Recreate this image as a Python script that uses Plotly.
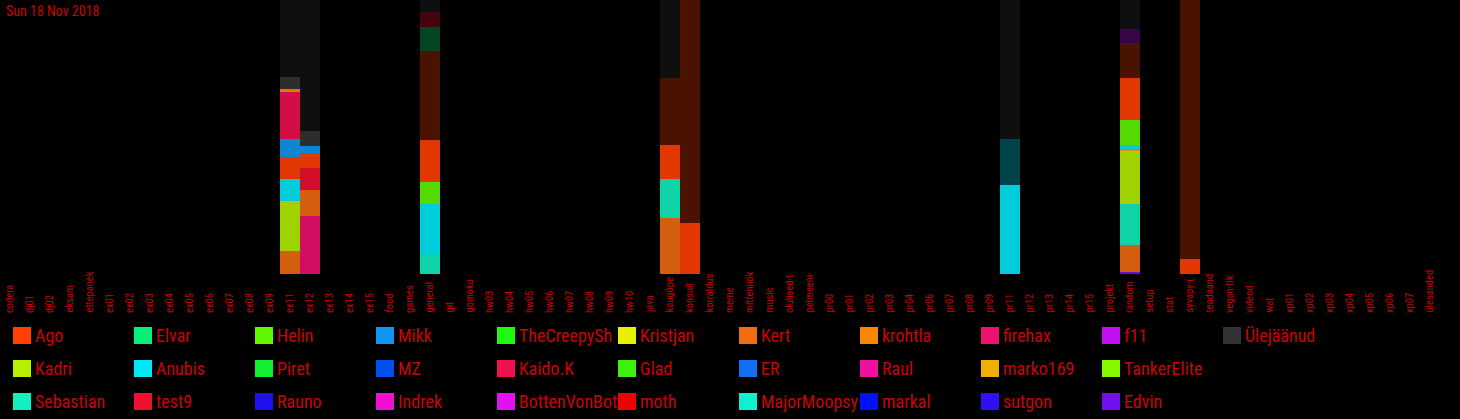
import plotly.graph_objects as go

# ---------------- data ----------------
categories = [
    "codera", "dj01", "dj02", "eksam", "ettepanek", "ex01", "ex02", "ex03", "ex04", "ex05",
    "ex06", "ex07", "ex08", "ex09", "ex11", "ex12", "ex13", "ex14", "ex15", "food",
    "games", "general", "git", "gomoku", "hw03", "hw04", "hw05", "hw06", "hw07", "hw08",
    "hw09", "hw10", "java", "kaugõpe", "konsult", "korraldus", "meme", "mitteniiök", "music", "olulised-t",
    "pelmeeni-", "pr00", "pr01", "pr02", "pr03", "pr04", "pr06", "pr07", "pr08", "pr09",
    "pr11", "pr12", "pr13", "pr14", "pr15", "projekt", "random", "setup", "stat", "syvapy-(",
    "teadaand", "vegan-tik", "videod", "wat", "xp01", "xp02", "xp03", "xp04", "xp05", "xp06",
    "xp07", "ülesanded",
]

series_names = [
    "Ago", "Kadri", "Sebastian", "Elvar", "Anubis", "test9", "Helin", "Piret", "Rauno",
    "Mikk", "MZ", "Indrek", "TheCreepySh", "Kaido.K", "BottenVonBot", "Kristjan", "Glad",
    "moth", "Kert", "ER", "MajorMoopsy", "krohtla", "Raul", "markal", "firehax", "marko169",
    "sutgon", "f11", "TankerElite", "Edvin", "Ülejäänud",
]
series_colors = [
    "#ff4000", "#b4f000", "#10f0c0", "#00f078", "#00e8f8", "#f01030", "#60f800", "#10f030", "#2010f0",
    "#1098f0", "#0050f0", "#f010d0", "#20f810", "#f01050", "#e010f0", "#e8f000", "#40f010",
    "#f00000", "#f06c10", "#1070f0", "#10f0d0", "#f88800", "#f010a0", "#0010f8", "#f01070", "#f0b000",
    "#3010f0", "#c010f0", "#88f800", "#7010f0", "#333333",
]

# stacked segments per bar, bottom to top (percent of bar); faded = 1 for dim segments
ex11_names = ["Kert", "Kadri", "Anubis", "Ago", "Mikk", "Kaido.K", "krohtla", "Ülejäänud", "Ülejäänud"]
ex11_values = [8.4, 18.2, 8.0, 8.0, 6.6, 17.5, 0.7, 4.4, 28.2]
ex11_faded = [0, 0, 0, 0, 0, 0, 0, 0, 1]

ex12_names = ["firehax", "Kert", "test9", "Ago", "Mikk", "Ülejäänud", "Ülejäänud"]
ex12_values = [21.2, 9.5, 8.0, 5.5, 2.6, 5.5, 47.7]
ex12_faded = [0, 0, 0, 0, 0, 0, 1]

general_names = ["Sebastian", "Anubis", "Helin", "Ago", "Ago", "Elvar", "test9", "Ülejäänud"]
general_values = [7.3, 18.2, 8.0, 15.3, 32.5, 8.8, 5.5, 4.4]
general_faded = [0, 0, 0, 0, 1, 1, 1, 1]

kaugope_names = ["Kert", "Sebastian", "Ago", "Ago", "Ülejäänud"]
kaugope_values = [20.4, 14.2, 12.4, 24.5, 28.5]
kaugope_faded = [0, 0, 0, 1, 1]

konsult_names = ["Ago", "Ago"]
konsult_values = [18.6, 81.4]
konsult_faded = [0, 1]

pr11_names = ["Anubis", "Anubis", "Ülejäänud"]
pr11_values = [32.5, 16.8, 50.7]
pr11_faded = [0, 1, 1]

random_names = ["Edvin", "Kert", "Sebastian", "Kadri", "krohtla", "Anubis", "Helin", "Ago", "Ago", "f11", "Ülejäänud"]
random_values = [0.7, 9.9, 14.8, 19.7, 0.4, 1.5, 9.1, 15.3, 12.8, 5.1, 10.7]
random_faded = [0, 0, 0, 0, 0, 0, 0, 0, 1, 1, 1]

syvapy_names = ["Ago", "Ago"]
syvapy_values = [5.5, 94.5]
syvapy_faded = [0, 1]

bar_categories = ["ex11", "ex12", "general", "kaugõpe", "konsult", "pr11", "random", "syvapy-("]
bar_names = [ex11_names, ex12_names, general_names, kaugope_names, konsult_names, pr11_names, random_names, syvapy_names]
bar_values = [ex11_values, ex12_values, general_values, kaugope_values, konsult_values, pr11_values, random_values, syvapy_values]
bar_faded = [ex11_faded, ex12_faded, general_faded, kaugope_faded, konsult_faded, pr11_faded, random_faded, syvapy_faded]

title_text = "Sun 18 Nov 2018"

# ---------------- style ----------------
RED = "#c80404"
FONT = "Roboto Condensed, Liberation Sans Narrow, DejaVu Sans Condensed, sans-serif"
W, H = 1460, 419
ML, MR, MT, MB = 0, 20, 0, 145
PW, PH = W - ML - MR, H - MT - MB

color_of = dict(zip(series_names, series_colors))

fig = go.Figure()
for cat, names, values, faded in zip(bar_categories, bar_names, bar_values, bar_faded):
    base = 0.0
    for n, v, f in zip(names, values, faded):
        fig.add_trace(go.Bar(
            x=[cat], y=[v], base=[base], name=n, width=1,
            marker=dict(color=color_of[n], opacity=0.29 if f else 0.88, line=dict(width=0)),
            showlegend=False, hoverinfo="x+name+y",
        ))
        base += v

# category labels (bottom aligned, rotated)
for cat in categories:
    fig.add_annotation(
        x=cat, xref="x", y=-(315 - PH) / PH, yref="paper",
        text=cat, textangle=-90, xanchor="center", yanchor="bottom",
        showarrow=False, xshift=-1,
        font=dict(family=FONT, size=10.5, color=RED),
    )

# legend grid (column-major, 3 rows)
for k, (name, col) in enumerate(zip(series_names, series_colors)):
    c, r = divmod(k, 3)
    top = 327 + 33 * r
    x0 = 13 + 121 * c
    fig.add_shape(
        type="rect", xref="paper", yref="paper",
        x0=x0 / PW, x1=(x0 + 18) / PW,
        y0=(PH - (top + 17)) / PH, y1=(PH - top) / PH,
        fillcolor=col, line=dict(width=0), layer="above",
    )
    fig.add_annotation(
        x=(x0 + 20) / PW, xref="paper", y=(PH - (top + 8.5)) / PH, yref="paper",
        text=name, xanchor="left", yanchor="middle", showarrow=False,
        font=dict(family=FONT, size=18, color=RED),
    )

fig.add_annotation(
    x=4 / PW, xref="paper", y=(PH - 1) / PH, yref="paper",
    text=title_text, xanchor="left", yanchor="top", showarrow=False,
    font=dict(family=FONT, size=14, color=RED),
)

fig.update_layout(
    width=W, height=H,
    margin=dict(l=ML, r=MR, t=MT, b=MB),
    paper_bgcolor="black", plot_bgcolor="black",
    barmode="overlay", bargap=0,
    showlegend=False,
    xaxis=dict(type="category", categoryorder="array", categoryarray=categories,
               range=[-0.5, len(categories) - 0.5], showticklabels=False,
               showgrid=False, zeroline=False, showline=False, ticks=""),
    yaxis=dict(range=[0, 100], visible=False, showgrid=False, zeroline=False),
)

fig.write_html(
    "out.html",
    config={"displayModeBar": False},
    post_script="document.body.style.margin='0';document.body.style.background='black';",
)
